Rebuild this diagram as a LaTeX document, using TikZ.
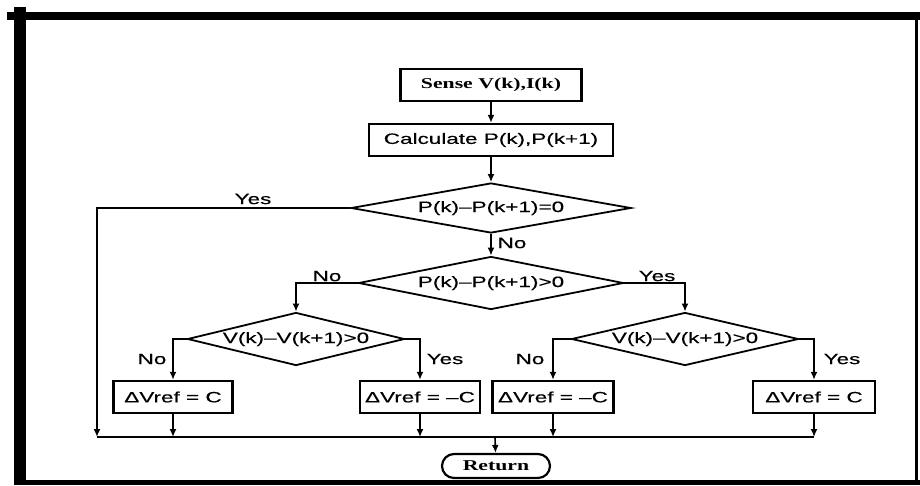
\documentclass[tikz,border=0pt]{standalone}
\usepackage{fontspec}
\setmainfont{Liberation Sans}[FakeStretch=1.5,FakeBold=0.4]
\newfontfamily\headfont{Liberation Serif}[FakeStretch=1.45]
\usetikzlibrary{shapes.geometric,shapes.misc,arrows.meta}

\begin{document}
\begin{tikzpicture}[x=1pt,y=-1pt,
    font=\fontsize{15}{18}\selectfont,
    head/.style={font=\headfont\bfseries\fontsize{15}{18}\selectfont},
    box/.style={draw,rectangle,line width=2.4pt,inner sep=0pt,minimum height=32pt},
    test/.style={draw,diamond,aspect=4.2,line width=1.8pt,inner sep=0pt,
        text height=11pt,text depth=3pt,minimum height=53pt},
    ret/.style={draw,rounded rectangle,head,line width=2.2pt,inner sep=0pt,
        minimum width=108pt,minimum height=24pt},
    lbl/.style={inner sep=1pt},
    arr/.style={line width=1.6pt,-{Latex[length=8pt,width=7pt]}},
    link/.style={line width=1.6pt}]

    \useasboundingbox (0,0) rectangle (920,485);

    %draw frame:
    \fill (7,12) rectangle (920,20);
    \fill (14,7) rectangle (26,485);
    \fill (26,480) rectangle (920,485);
    \fill (915,20) rectangle (918,480);

    %draw boxes:
    \node[box,head,minimum width=181pt] (sense) at (491,85) {Sense V(k),I(k)};
    \node[box,minimum width=244pt] (calc) at (491,140) {Calculate P(k),P(k+1)};
    \node[test,minimum width=280pt,minimum height=50pt] (dec1) at (491,208) {P(k)–P(k+1)=0};
    \node[test,minimum width=265pt] (dec2) at (491,283) {P(k)–P(k+1)>0};
    \node[test,minimum width=217pt] (dec3) at (296,339) {V(k)–V(k+1)>0};
    \node[test,minimum width=227pt] (dec4) at (685,339) {V(k)–V(k+1)>0};
    \node[box,minimum width=119pt] (incL) at (173,397) {ΔVref = C};
    \node[box,minimum width=120pt] (decL) at (420,397) {ΔVref = –C};
    \node[box,minimum width=121pt] (decR) at (553,397) {ΔVref = –C};
    \node[box,minimum width=122pt] (incR) at (814,397) {ΔVref = C};
    \node[ret] (ret) at (496,466) {Return};

    %labels:
    \node[lbl] (yesA) at (253,199) {Yes};
    \node[lbl] (noA) at (512,243) {No};
    \node[lbl] (noB) at (327,276) {No};
    \node[lbl] (yesB) at (657,276) {Yes};
    \node[lbl] (noC) at (152,359) {No};
    \node[lbl] (yesC) at (445,359) {Yes};
    \node[lbl] (noD) at (530,359) {No};
    \node[lbl] (yesD) at (842,359) {Yes};

    \coordinate (merge) at (495,437);
    \coordinate (yesEnd) at (97,437);

    %draw arrows:
    \draw[arr] (sense) -- (calc);
    \draw[arr] (calc) -- (dec1);
    \draw[arr] (dec1) -- (dec2);
    \draw[arr] (dec1.west) -| (yesEnd);
    \draw[arr] (dec2.west) -| (dec3.north);
    \draw[arr] (dec2.east) -| (dec4.north);
    \draw[arr] (dec3.west) -| (incL.north);
    \draw[arr] (dec3.east) -| (decL.north);
    \draw[arr] (dec4.west) -| (decR.north);
    \draw[arr] (dec4.east) -| (incR.north);
    \foreach \b in {incL,decL,decR,incR}
        \draw[arr] (\b.south) -- (\b.south |- merge);
    \draw[link] (yesEnd) -- (incR.south |- merge);
    \draw[arr] (merge) -- (ret);

\end{tikzpicture}
\end{document}
